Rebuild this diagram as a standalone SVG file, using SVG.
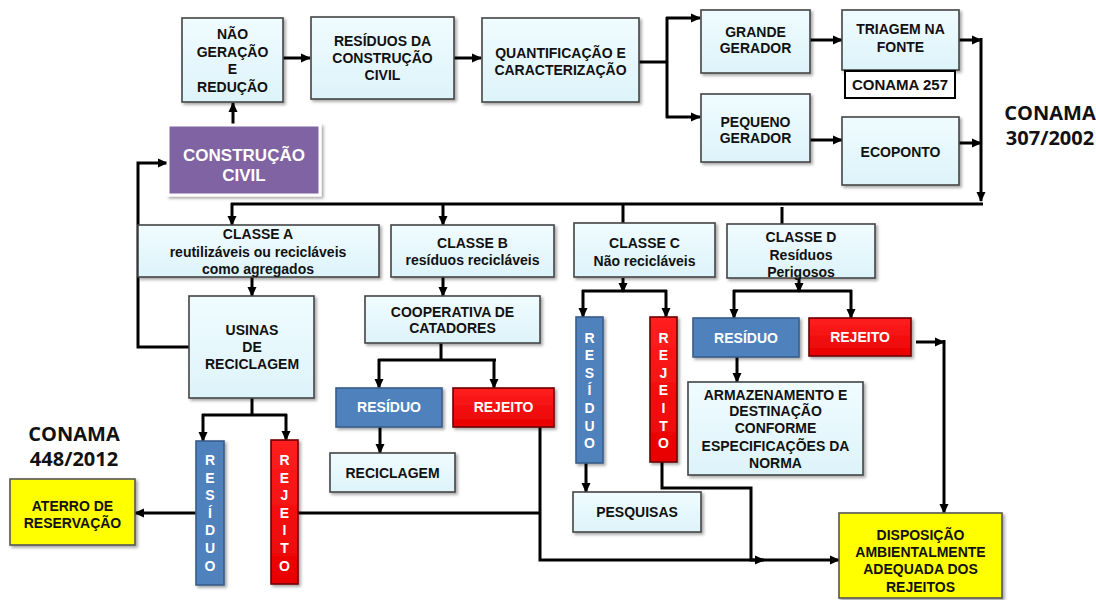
<svg xmlns="http://www.w3.org/2000/svg" width="1096" height="600" viewBox="0 0 1096 600">
<defs>
<linearGradient id="lb" x1="0" y1="0" x2="0" y2="1"><stop offset="0" stop-color="#F0FCFF"/><stop offset="1" stop-color="#DDF3FA"/></linearGradient>
<linearGradient id="rd" x1="0" y1="0" x2="0" y2="1"><stop offset="0" stop-color="#FF2020"/><stop offset="1" stop-color="#E80000"/></linearGradient>
<filter id="sh" x="-10%" y="-10%" width="130%" height="130%"><feDropShadow dx="2" dy="2" stdDeviation="1.5" flood-color="#000" flood-opacity="0.35"/></filter>
<marker id="ah" markerWidth="10" markerHeight="10" refX="9" refY="5" orient="auto" markerUnits="userSpaceOnUse"><path d="M0,0.5 L10,5 L0,9.5 z" fill="#000"/></marker>
</defs>
<style>
.lb{fill:url(#lb);stroke:#444;stroke-width:1.6;filter:url(#sh)}
.bl{fill:#4F81BD;stroke:#385D8A;stroke-width:1.6;filter:url(#sh)}
.rd{fill:url(#rd);stroke:#6E0000;stroke-width:1.6;filter:url(#sh)}
.yl{fill:#FFFF00;stroke:#555;stroke-width:1.6;filter:url(#sh)}
.pp{fill:#8064A2;stroke:#fff;stroke-width:3;filter:url(#sh)}
.t{font-family:"Liberation Sans",Arial,sans-serif;font-weight:bold;font-size:14px;fill:#111;text-anchor:middle}
.w{fill:#fff}
.f17{font-size:17px}
.f15{font-size:15px}
.big{font-family:"Open Sans","Liberation Sans",sans-serif;font-weight:bold;font-size:20px;fill:#111;text-anchor:middle}
.c{fill:none;stroke:#000;stroke-width:3}
.a{marker-end:url(#ah)}
</style>
<rect width="1096" height="600" fill="#fff"/>

<g id="connectors">
<path class="c a" d="M283,58 H310"/>
<path class="c a" d="M454,58 H481"/>
<path class="c a" d="M233,125 V103"/>
<path class="c" d="M639,62 H668" stroke-width="5"/>
<path class="c" d="M667,17 V118"/>
<path class="c a" d="M666,18 H700"/>
<path class="c a" d="M666,117 H700"/>
<path class="c a" d="M810,40 H842"/>
<path class="c a" d="M810,140 H842"/>
<path class="c a" d="M959,40 H981"/>
<path class="c a" d="M959,143 H981"/>
<path class="c a" d="M981,38 V201"/>
<path class="c" d="M231,204 H983"/>
<path class="c a" d="M232,203 V225"/>
<path class="c a" d="M443,203 V225"/>
<path class="c" d="M623,203 V223"/>
<path class="c" d="M782,207 V224"/>
<path class="c a" d="M252,277 V296"/>
<path class="c a" d="M443,277 V296"/>
<path class="c a" d="M189,347 H138 V163 H167"/>
<path class="c" d="M441,343 V360"/>
<path class="c" d="M378,360 H496"/>
<path class="c a" d="M379,359 V388"/>
<path class="c a" d="M494,359 V388"/>
<path class="c a" d="M380,427 V453"/>
<path class="c" d="M252,398 V415"/>
<path class="c" d="M202,415 H287"/>
<path class="c a" d="M203,414 V441"/>
<path class="c a" d="M286,414 V440"/>
<path class="c a" d="M196,513 H135"/>
<path class="c" d="M298,513 H541"/>
<path class="c a" d="M540,427 V560 H839"/>
<path class="c a" d="M623,278 V292"/>
<path class="c" d="M582,291 H667"/>
<path class="c a" d="M583,290 V317"/>
<path class="c a" d="M666,290 V317"/>
<path class="c a" d="M586,463 V492"/>
<path class="c a" d="M662,462 V488 H751 V560 H764"/>
<path class="c a" d="M799,278 V292"/>
<path class="c" d="M733,291 H852"/>
<path class="c a" d="M734,290 V318"/>
<path class="c a" d="M851,290 V318"/>
<path class="c a" d="M737,357 V382"/>
<path class="c a" d="M916,342 H944"/>
<path class="c a" d="M944,340 V513"/>
</g>

<g id="nao_geracao"><rect class="lb" x="182" y="18" width="101" height="84"/>
<text class="t" x="232.5" y="39">NÃO</text><text class="t" x="232.5" y="57">GERAÇÃO</text><text class="t" x="232.5" y="74">E</text><text class="t" x="232.5" y="92">REDUÇÃO</text></g>

<g id="construcao_civil"><rect class="pp" x="168" y="125" width="152" height="70"/>
<text class="t w f17" x="244" y="161">CONSTRUÇÃO</text><text class="t w f17" x="244" y="181">CIVIL</text></g>

<g id="residuos_cc"><rect class="lb" x="311" y="17" width="143" height="82"/>
<text class="t" x="382.5" y="46">RESÍDUOS DA</text><text class="t" x="382.5" y="63">CONSTRUÇÃO</text><text class="t" x="382.5" y="80">CIVIL</text></g>

<g id="quantificacao"><rect class="lb" x="482" y="18" width="157" height="84"/>
<text class="t" x="560.5" y="58">QUANTIFICAÇÃO E</text><text class="t" x="560.5" y="75">CARACTERIZAÇÃO</text></g>

<g id="grande_gerador"><rect class="lb" x="701" y="10" width="109" height="63"/>
<text class="t" x="755.5" y="37">GRANDE</text><text class="t" x="755.5" y="53">GERADOR</text></g>

<g id="pequeno_gerador"><rect class="lb" x="701" y="94" width="109" height="68"/>
<text class="t" x="755.5" y="127">PEQUENO</text><text class="t" x="755.5" y="143">GERADOR</text></g>

<g id="triagem"><rect class="lb" x="842" y="10" width="117" height="60"/>
<text class="t" x="900.5" y="34">TRIAGEM NA</text><text class="t" x="900.5" y="52">FONTE</text></g>

<g id="conama257"><rect x="845" y="71" width="110" height="27" fill="#fff" stroke="#000" stroke-width="2"/>
<text class="t f15" x="900" y="90">CONAMA 257</text></g>

<g id="ecoponto"><rect class="lb" x="842" y="117" width="117" height="68"/>
<text class="t" x="900.5" y="157">ECOPONTO</text></g>

<g id="conama307"><text class="big" x="1050" y="120">CONAMA</text><text class="big" x="1050" y="145">307/2002</text></g>

<g id="classe_a"><rect class="lb" x="138" y="225" width="241" height="52"/>
<text class="t" x="258" y="239">CLASSE A</text><text class="t" x="258" y="257">reutilizáveis ou recicláveis</text><text class="t" x="258" y="274">como agregados</text></g>

<g id="classe_b"><rect class="lb" x="391" y="225" width="163" height="52"/>
<text class="t" x="472.5" y="248">CLASSE B</text><text class="t" x="472.5" y="265">resíduos recicláveis</text></g>

<g id="classe_c"><rect class="lb" x="574" y="223" width="141" height="54"/>
<text class="t" x="644.5" y="248">CLASSE C</text><text class="t" x="644.5" y="266">Não recicláveis</text></g>

<g id="classe_d"><rect class="lb" x="727" y="224" width="148" height="54"/>
<text class="t" x="801" y="242">CLASSE D</text><text class="t" x="801" y="260">Resíduos</text><text class="t" x="801" y="277">Perigosos</text></g>

<g id="usinas"><rect class="lb" x="189" y="296" width="125" height="102"/>
<text class="t" x="252" y="335">USINAS</text><text class="t" x="252" y="352">DE</text><text class="t" x="252" y="369">RECICLAGEM</text></g>

<g id="cooperativa"><rect class="lb" x="365" y="296" width="175" height="47"/>
<text class="t" x="452.5" y="317">COOPERATIVA DE</text><text class="t" x="452.5" y="333">CATADORES</text></g>

<g id="residuo_b"><rect class="bl" x="336" y="388" width="106" height="39"/>
<text class="t w" x="389" y="412">RESÍDUO</text></g>

<g id="rejeito_b"><rect class="rd" x="453" y="388" width="101" height="39"/>
<text class="t w" x="503.5" y="412">REJEITO</text></g>

<g id="reciclagem"><rect class="lb" x="330" y="453" width="125" height="39"/>
<text class="t" x="392.5" y="478">RECICLAGEM</text></g>

<g id="residuo_a"><rect class="bl" x="196" y="441" width="28" height="144"/>
<g class="t w"><text x="210" y="465">R</text><text x="210" y="483">E</text><text x="210" y="500">S</text><text x="210" y="518">Í</text><text x="210" y="535">D</text><text x="210" y="553">U</text><text x="210" y="571">O</text></g></g>

<g id="rejeito_a"><rect class="rd" x="271" y="440" width="27" height="144"/>
<g class="t w"><text x="284.5" y="465">R</text><text x="284.5" y="483">E</text><text x="284.5" y="500">J</text><text x="284.5" y="518">E</text><text x="284.5" y="535">I</text><text x="284.5" y="553">T</text><text x="284.5" y="571">O</text></g></g>

<g id="conama448"><text class="big" x="74" y="441">CONAMA</text><text class="big" x="74" y="466">448/2012</text></g>

<g id="aterro"><rect class="yl" x="10" y="479" width="125" height="66"/>
<text class="t" x="72.5" y="511">ATERRO DE</text><text class="t" x="72.5" y="528">RESERVAÇÃO</text></g>

<g id="residuo_c"><rect class="bl" x="576" y="317" width="27" height="146"/>
<g class="t w"><text x="589.5" y="343">R</text><text x="589.5" y="360">E</text><text x="589.5" y="378">S</text><text x="589.5" y="395">Í</text><text x="589.5" y="413">D</text><text x="589.5" y="431">U</text><text x="589.5" y="448">O</text></g></g>

<g id="rejeito_c"><rect class="rd" x="650" y="317" width="27" height="145"/>
<g class="t w"><text x="663.5" y="343">R</text><text x="663.5" y="360">E</text><text x="663.5" y="378">J</text><text x="663.5" y="395">E</text><text x="663.5" y="413">I</text><text x="663.5" y="431">T</text><text x="663.5" y="448">O</text></g></g>

<g id="pesquisas"><rect class="lb" x="573" y="492" width="128" height="40"/>
<text class="t" x="637" y="517">PESQUISAS</text></g>

<g id="residuo_d"><rect class="bl" x="693" y="318" width="106" height="39"/>
<text class="t w" x="746" y="343">RESÍDUO</text></g>

<g id="rejeito_d"><rect class="rd" x="809" y="318" width="102" height="38"/>
<text class="t w" x="860" y="342">REJEITO</text></g>

<g id="armazenamento"><rect class="lb" x="688" y="382" width="175" height="93"/>
<text class="t" x="775.5" y="400">ARMAZENAMENTO E</text><text class="t" x="775.5" y="416">DESTINAÇÃO</text><text class="t" x="775.5" y="433">CONFORME</text><text class="t" x="775.5" y="451">ESPECIFICAÇÕES DA</text><text class="t" x="775.5" y="468">NORMA</text></g>

<g id="disposicao"><rect class="yl" x="839" y="513" width="163" height="85"/>
<text class="t" x="920.5" y="540">DISPOSIÇÃO</text><text class="t" x="920.5" y="557">AMBIENTALMENTE</text><text class="t" x="920.5" y="574">ADEQUADA DOS</text><text class="t" x="920.5" y="592">REJEITOS</text></g>
</svg>
